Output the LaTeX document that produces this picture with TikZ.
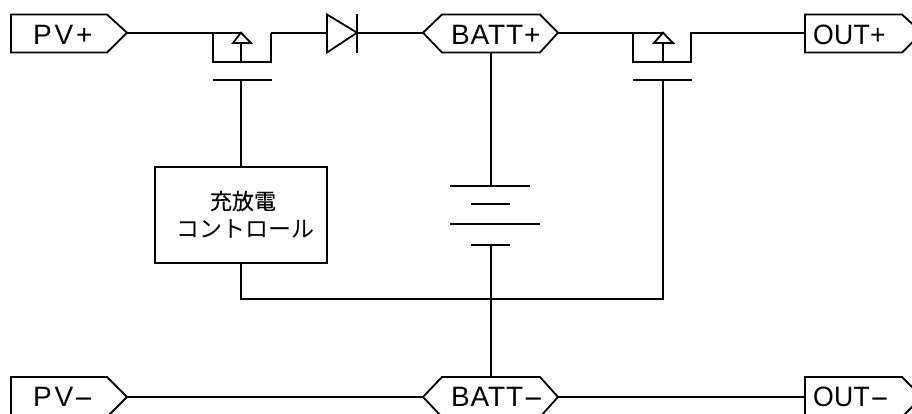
\documentclass[tikz,border=0pt]{standalone}
\usepackage{fontspec}
\setmainfont{Liberation Sans}
\newfontfamily\cjk{Noto Sans CJK JP}
\newfontfamily\cjkb[FakeBold=0.35]{Noto Sans CJK JP}
\newfontfamily\lbl[LetterSpace=3]{Liberation Sans}
\newfontfamily\lblpv[LetterSpace=10]{Liberation Sans}
\newfontfamily\lblout[LetterSpace=1,FakeStretch=0.95]{Liberation Sans}
\newcommand{\longdash}{\scalebox{2.2}[1]{-}}
\begin{document}
\begin{tikzpicture}[x=1pt,y=-1pt,
  wire/.style={draw=black,line width=1.8pt,line join=miter},
  tagtext/.style={inner sep=0pt,anchor=base west,font=\lbl\fontsize{28}{28}\selectfont},
  pvtext/.style={inner sep=0pt,anchor=base west,font=\lblpv\fontsize{28}{28}\selectfont},
  outtext/.style={inner sep=0pt,anchor=base west,font=\lblout\fontsize{28}{28}\selectfont},
  ctrlbox/.style={draw=black,line width=1.8pt,minimum width=172pt,minimum height=96pt,inner sep=0pt}]
\useasboundingbox (0,0) rectangle (912,414);
\fill[white] (0,0) rectangle (912,414);
% tag outlines
\draw[wire] (11,14.5) -- (107,14.5) -- (127,32.7) coordinate (pvp) -- (107,52.5) -- (11,52.5) -- cycle;
\draw[wire] (423,32.7) coordinate (bpl) -- (442,14.5) -- (540,14.5) -- (558,32.7) coordinate (bpr) -- (540,52.5) -- (442,52.5) -- cycle;
\draw[wire] (805,14.5) -- (902,14.5) -- (922,32.7) -- (902,52.5) -- (805,52.5) -- cycle;
\coordinate (op) at (805,32.7);
\coordinate (bpb) at (491,52.5);
\draw[wire] (11,377) -- (107,377) -- (127,397) coordinate (pvm) -- (107,417) -- (11,417) -- cycle;
\draw[wire] (423,397) coordinate (bml) -- (442,377) -- (540,377) -- (558,397) coordinate (bmr) -- (540,417) -- (442,417) -- cycle;
\draw[wire] (805,377) -- (902,377) -- (922,397) -- (902,417) -- (805,417) -- cycle;
\coordinate (om) at (805,397);
\coordinate (bmt) at (491,377);
% tag texts
\node[pvtext] (tpvp) at (33,45) {PV+};
\node[tagtext] (tbp) at (451,45) {BATT+};
\node[outtext] (top) at (813,45) {OUT+};
\node[pvtext] (tpvm) at (33,406) {PV\longdash};
\node[tagtext] (tbm) at (451,406) {BATT\longdash};
\node[outtext] (tom) at (813,406) {OUT\longdash};
% MOSFET 1
\coordinate (m1s) at (213,32.7); \coordinate (m1d) at (271,32.7);
\coordinate (m1t) at (241,32.7); \coordinate (m1b) at (241,62);
\draw[wire] (pvp) -- (m1t);
\draw[wire] (m1s) -- (213,62) -- (271,62) -- (m1d);
\draw[wire] (m1t) -- (251,43) -- (233,43) -- cycle;
\draw[wire] (241,43) -- (m1b);
\draw[wire] (213,80) -- (272,80);
\coordinate (g1) at (241,80);
% diode
\coordinate (da) at (327,32.7); \coordinate (dk) at (357,32.7);
\draw[wire] (m1d) -- (da);
\draw[wire] (da) -- (327,14.5) -- (dk) -- (327,52.5) -- cycle;
\draw[wire] (357,14) -- (357,53);
\draw[wire] (dk) -- (bpl);
% MOSFET 2
\coordinate (m2s) at (633,32.7); \coordinate (m2d) at (691,32.7);
\coordinate (m2t) at (663,32.7); \coordinate (m2b) at (663,62);
\draw[wire] (bpr) -- (m2t);
\draw[wire] (m2s) -- (633,62) -- (691,62) -- (m2d) -- (op);
\draw[wire] (m2t) -- (673,43) -- (654,43) -- cycle;
\draw[wire] (663,43) -- (m2b);
\draw[wire] (633,80) -- (692,80);
\coordinate (g2) at (663,80);
% control
\node[ctrlbox] (ctrl) at (241,215) {};
\node[inner sep=0pt,font=\cjkb\fontsize{22}{22}\selectfont] (c1) at (243,201) {充放電};
\node[inner sep=0pt,font=\cjk\fontsize{23}{23}\selectfont] (c2) at (245.5,229) {コントロール};
\draw[wire] (g1) -- (ctrl.north -| g1);
\draw[wire] (ctrl.south -| g1) -- (241,299) -- (663,299) -- (g2);
% battery
\coordinate (b1) at (491,186); \coordinate (b4) at (491,245);
\draw[wire] (bpb) -- (b1);
\draw[wire] (450,186) -- (530,186);
\draw[wire] (471,204) -- (510,204);
\draw[wire] (450,224) -- (540,224);
\draw[wire] (471,245) -- (510,245);
\draw[wire] (b4) -- (bmt);
% bottom rail
\draw[wire] (pvm) -- (bml);
\draw[wire] (bmr) -- (om);
\end{tikzpicture}
\end{document}
